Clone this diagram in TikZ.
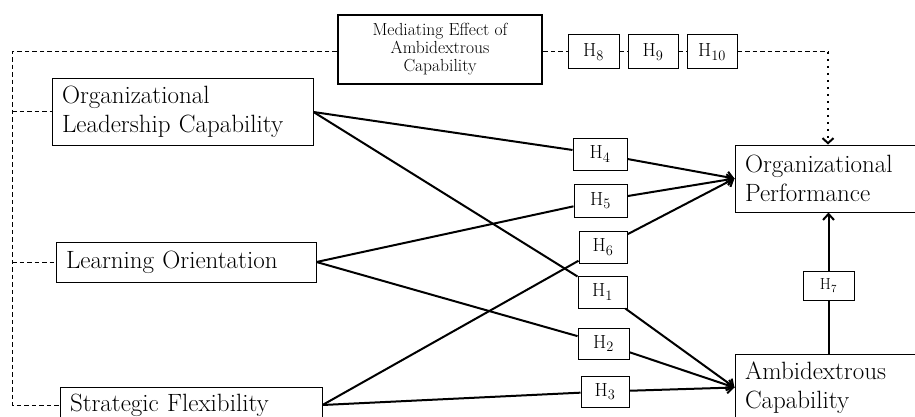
\documentclass[tikz,border=0pt]{standalone}
\usetikzlibrary{arrows.meta}
\begin{document}
\begin{tikzpicture}[x=1pt,y=-1pt,
  box/.style={draw, line width=1pt, inner sep=0pt, fill=white},
  big/.style={box, font=\fontsize{25}{29}\selectfont, align=left, inner xsep=10pt},
  hyp/.style={box, font=\fontsize{19}{20}\selectfont, minimum height=32pt},
  conn/.style={line width=2pt},
  arr/.style={conn, -{Straight Barb[length=6pt,width=11pt,line width=2pt]}},
  dsh/.style={line width=1pt, dash pattern=on 4.5pt off 3pt},
  dotarr/.style={line width=2.2pt, dash pattern=on 2pt off 5pt, -{Straight Barb[length=5pt,width=11pt,line width=2pt]}}
]
\path[use as bounding box, fill=white] (0,0) rectangle (915,417);
\clip (0,0) rectangle (915,417);

% main constructs
\node[big, text width=241pt, minimum height=66pt] (OLC) at (182.5,112) {Organizational\\Leadership Capability};
\node[big, text width=240pt, minimum height=40pt] (LO) at (186,262) {Learning Orientation};
\node[big, text width=242pt, minimum height=36pt] (SF) at (191,405) {Strategic Flexibility};
\node[big, text width=180pt, minimum height=67pt] (OP) at (835,178.5) {Organizational\\Performance};
\node[big, text width=180pt, minimum height=67pt] (AC) at (835,387.5) {Ambidextrous\\Capability};

% mediating box
\node[box, line width=2.5pt, minimum width=204pt, minimum height=69pt, align=center,
      font=\fontsize{17.5}{18}\selectfont] (MED) at (440,49.5) {Mediating Effect of\\Ambidextrous\\Capability};

% hypothesis boxes
\node[hyp, minimum width=51pt, minimum height=34pt] (H8) at (593.5,52) {H$_{8}$};
\node[hyp, minimum width=50pt, minimum height=34pt] (H9) at (653,52) {H$_{9}$};
\node[hyp, minimum width=50pt, minimum height=34pt] (H10) at (712,52) {H$_{10}$};
\node[hyp, minimum width=54pt] (H4) at (600,154) {H$_{4}$};
\node[hyp, minimum width=53pt, minimum height=33pt] (H5) at (600.5,200.5) {H$_{5}$};
\node[hyp, minimum width=48pt] (H6) at (603,247) {H$_{6}$};
\node[hyp, minimum width=49pt] (H1) at (602.5,292) {H$_{1}$};
\node[hyp, minimum width=51pt, minimum height=31pt] (H2) at (603.5,343.5) {H$_{2}$};
\node[hyp, minimum width=48pt, minimum height=31pt] (H3) at (605,391.5) {H$_{3}$};
\node[hyp, minimum width=51pt, minimum height=29pt, font=\fontsize{16}{17}\selectfont] (H7) at (828.5,285.5) {H$_{7}$};

% paths
\draw[conn] (OLC.east) -- (H4); \draw[arr] (H4) -- (OP.west);
\draw[conn] (OLC.east) -- (H1); \draw[arr] (H1) -- (AC.west);
\draw[conn] (LO.east) -- (H5);  \draw[arr] (H5) -- (OP.west);
\draw[conn] (LO.east) -- (H2);  \draw[arr] (H2) -- (AC.west);
\draw[conn] (SF.east) -- (H6);  \draw[arr] (H6) -- (OP.west);
\draw[conn] (SF.east) -- (H3);  \draw[arr] (H3) -- (AC.west);
\draw[conn] (AC.north -| H7) -- (H7); \draw[arr] (H7) -- (H7 |- OP.south);

% mediating dashed lines
\coordinate (TL) at (12,52);
\coordinate (TR) at (828,52);
\draw[dsh] (MED.west |- TL) -- (TL) -- (TL |- SF.west) -- (SF.west);
\draw[dsh] (TL |- OLC.west) -- (OLC.west);
\draw[dsh] (TL |- LO.west) -- (LO.west);
\draw[dsh] (MED.east |- TL) -- (H8) -- (H9) -- (H10) -- (TR);
\draw[dotarr] (TR) -- (TR |- OP.north);
\end{tikzpicture}
\end{document}
